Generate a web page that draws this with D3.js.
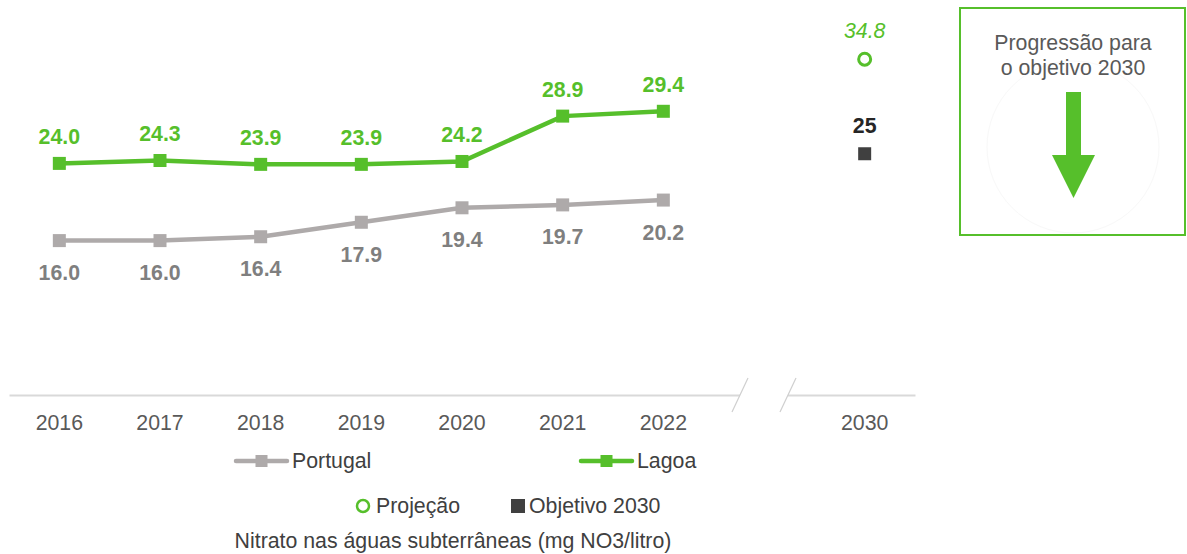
<!DOCTYPE html>
<html><head><meta charset="utf-8">
<script src="https://cdn.jsdelivr.net/npm/d3@7"></script>
<style>body{margin:0;background:#fff;font-family:Arial,"Liberation Sans",sans-serif;}</style>
</head><body>
<svg id="c" width="1187" height="554" font-family="Arial,'Liberation Sans',sans-serif"></svg>
<script>
const categories = ["2016","2017","2018","2019","2020","2021","2022","gap","2030"];
const years = ["2016","2017","2018","2019","2020","2021","2022"];
const portugal = [16.0,16.0,16.4,17.9,19.4,19.7,20.2];
const lagoa = [24.0,24.3,23.9,23.9,24.2,28.9,29.4];
const projection = [{year:"2030", value:34.8}];
const objective = [{year:"2030", value:25}];
const tickLabels = ["2016","2017","2018","2019","2020","2021","2022","","2030"];

const green = "#56bf2b", grey = "#aeaaaa", greyText = "#7f7f7f";
const FS = 21.3;
const svg = d3.select("#c");
const x = d3.scaleBand().domain(categories).range([9,915]);
const cx = d => x(d) + x.bandwidth()/2;
const y = d3.scaleLinear().domain([0,40]).range([395,9]);

// axis
const axis = d3.axisBottom(x).tickSize(0).tickFormat((d,i)=>tickLabels[i]);
const ag = svg.append("g").attr("transform","translate(0,395)").call(axis);
ag.select(".domain").attr("stroke","#d9d9d9").attr("stroke-width",2);
ag.selectAll("text").attr("font-size",FS).attr("fill","#595959").attr("y",0).attr("dy",35)
  .attr("font-family","Arial,'Liberation Sans',sans-serif");
// break
const gx = cx("gap");
svg.append("rect").attr("x",gx-24).attr("y",385).attr("width",48).attr("height",20).attr("fill","#fff");
[-24,24].forEach(o=>{
  svg.append("line").attr("x1",gx+o-8).attr("y1",412).attr("x2",gx+o+8).attr("y2",378)
    .attr("stroke","#cfcfcf").attr("stroke-width",1.2);
});

function series(vals, color, above, labColor){
  const line = d3.line().x((d,i)=>cx(years[i])).y(d=>y(d));
  svg.append("path").datum(vals).attr("d",line).attr("fill","none")
    .attr("stroke",color).attr("stroke-width",4.5);
  svg.selectAll(null).data(vals).enter().append("rect")
    .attr("x",(d,i)=>cx(years[i])-6.5).attr("y",d=>y(d)-6.5)
    .attr("width",13).attr("height",13).attr("fill",color);
  svg.selectAll(null).data(vals).enter().append("text")
    .attr("x",(d,i)=>cx(years[i])).attr("y",d=>y(d)+(above?-19.5:39.5))
    .attr("text-anchor","middle").attr("font-size",FS).attr("font-weight","bold")
    .attr("fill",labColor).text(d=>d.toFixed(1));
}
series(portugal, grey, false, greyText);
series(lagoa, green, true, green);

// projection
svg.selectAll(null).data(projection).enter().append("circle")
  .attr("cx",d=>cx(d.year)).attr("cy",d=>y(d.value)).attr("r",6)
  .attr("fill","#fff").attr("stroke",green).attr("stroke-width",3);
svg.selectAll(null).data(projection).enter().append("text")
  .attr("x",d=>cx(d.year)).attr("y",d=>y(d.value)-21.5).attr("text-anchor","middle")
  .attr("font-size",FS).attr("font-style","italic").attr("fill",green).text(d=>d.value.toFixed(1));
// objective
svg.selectAll(null).data(objective).enter().append("rect")
  .attr("x",d=>cx(d.year)-6.5).attr("y",d=>y(d.value)-6.5).attr("width",13).attr("height",13)
  .attr("fill","#404040");
svg.selectAll(null).data(objective).enter().append("text")
  .attr("x",d=>cx(d.year)).attr("y",d=>y(d.value)-21).attr("text-anchor","middle")
  .attr("font-size",FS).attr("font-weight","bold").attr("fill","#262626").text(d=>d.value);

// legend
const lg = svg.append("g").attr("font-size",FS).attr("fill","#404040");
function legLine(x0,color,label){
  lg.append("line").attr("x1",x0+2).attr("x2",x0+53).attr("y1",461).attr("y2",461)
    .attr("stroke",color).attr("stroke-width",4.5).attr("stroke-linecap","round");
  lg.append("rect").attr("x",x0+21.5).attr("y",455).attr("width",12).attr("height",12).attr("fill",color);
  lg.append("text").attr("x",x0+58).attr("y",468).text(label);
}
legLine(234, grey, "Portugal");
legLine(579, green, "Lagoa");
lg.append("circle").attr("cx",363).attr("cy",506).attr("r",6).attr("fill","#fff")
  .attr("stroke",green).attr("stroke-width",2.5);
lg.append("text").attr("x",376).attr("y",513).text("Projeção");
lg.append("rect").attr("x",511).attr("y",499).attr("width",14).attr("height",14).attr("fill","#404040");
lg.append("text").attr("x",529).attr("y",513).text("Objetivo 2030");
svg.append("text").attr("x",453).attr("y",548).attr("text-anchor","middle")
  .attr("font-size",FS).attr("fill","#404040").text("Nitrato nas águas subterrâneas (mg NO3/litro)");

// box
svg.append("rect").attr("x",960).attr("y",8).attr("width",225).attr("height",227)
  .attr("fill","#fff").attr("stroke",green).attr("stroke-width",2);
svg.append("circle").attr("cx",1073).attr("cy",147).attr("r",86).attr("fill","none")
  .attr("stroke","#f8f8f8").attr("stroke-width",1);
svg.append("text").attr("x",1073).attr("y",50).attr("text-anchor","middle").attr("font-size",FS)
  .attr("fill","#595959").text("Progressão para");
svg.append("text").attr("x",1073).attr("y",75).attr("text-anchor","middle").attr("font-size",FS)
  .attr("fill","#595959").text("o objetivo 2030");
svg.append("path").attr("d","M1066,92 L1081,92 L1081,155 L1095,155 L1073.5,198 L1052,155 L1066,155 Z")
  .attr("fill",green);
</script>
</body></html>
